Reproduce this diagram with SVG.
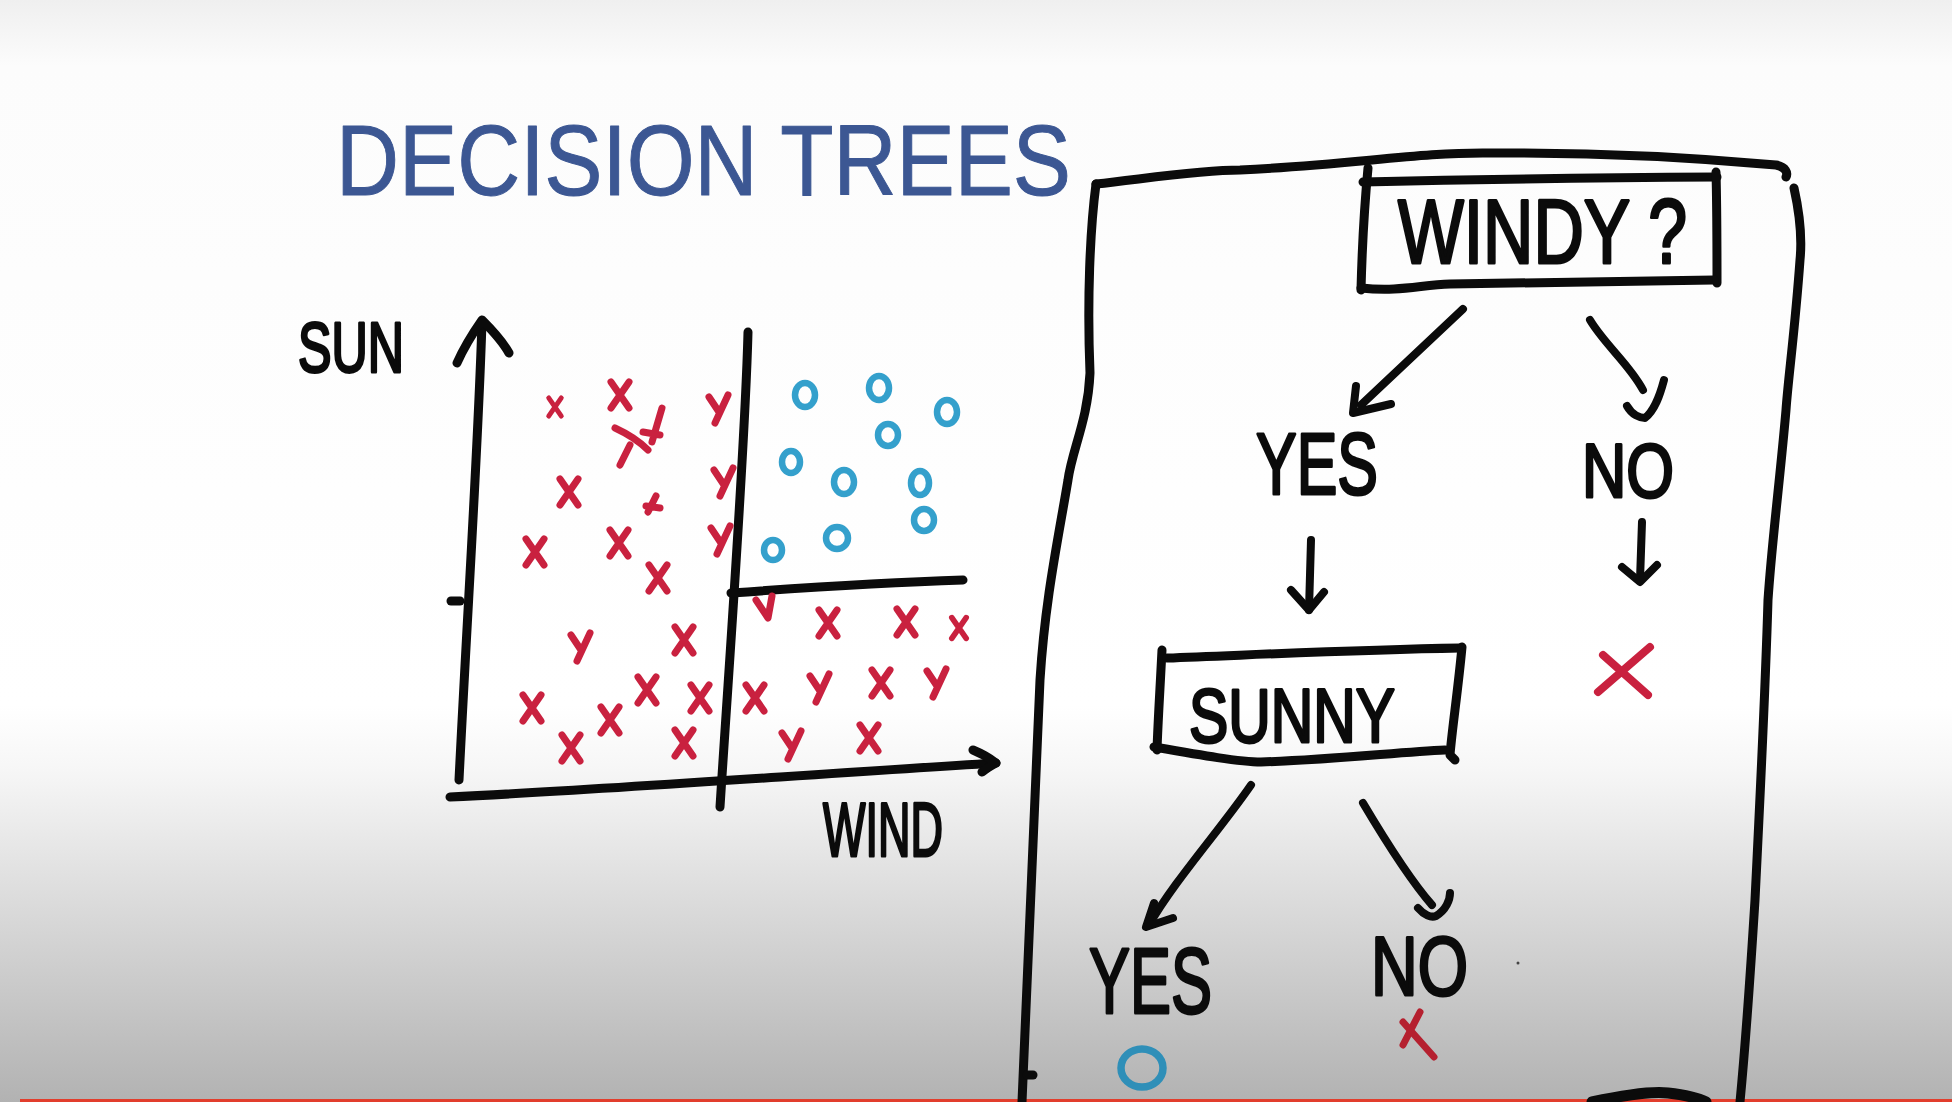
<svg xmlns="http://www.w3.org/2000/svg" width="1952" height="1102" viewBox="0 0 1952 1102">
<defs>
<linearGradient id="bg" x1="0" y1="0" x2="0" y2="1">
<stop offset="0" stop-color="#efefef"/>
<stop offset="0.06" stop-color="#fcfcfc"/>
<stop offset="0.64" stop-color="#ffffff"/>
<stop offset="0.70" stop-color="#f6f6f6"/>
<stop offset="1" stop-color="#b2b2b2"/>
</linearGradient>
<path id="mx" d="M-9,-13 L9,13 M9,-13 L-9,13"/>
<path id="my" d="M-9,-12 L1,3 M10,-14 L-3,14"/>
</defs>
<style>
.ink{fill:none;stroke:#0b0b0b;stroke-width:9;stroke-linecap:round;stroke-linejoin:round}
.thin{stroke-width:8}
.red{fill:none;stroke:#c9213f;stroke-width:7;stroke-linecap:round;stroke-linejoin:round}
.blue{fill:none;stroke:#34a0cc;stroke-width:6.5}
.lbl{font-family:"Liberation Sans","DejaVu Sans",sans-serif;fill:#0b0b0b;stroke:#0b0b0b;stroke-width:3;stroke-linejoin:round}
.ttl{font-family:"Liberation Sans","DejaVu Sans",sans-serif;fill:#3c5793;stroke:#3c5793;stroke-width:1;stroke-linejoin:round}
</style>
<rect x="0" y="0" width="1952" height="1102" fill="url(#bg)"/>
<rect x="20" y="1099" width="1932" height="3" fill="#e23e2d"/>

<g id="title">
<text class="ttl" x="336" y="195" font-size="100" textLength="735" lengthAdjust="spacingAndGlyphs">DECISION TREES</text>
</g>

<g id="chart">
<text class="lbl" x="298" y="372" font-size="70" textLength="106" lengthAdjust="spacingAndGlyphs">SUN</text>
<text class="lbl" x="823" y="856" font-size="76" textLength="120" lengthAdjust="spacingAndGlyphs">WIND</text>
<path class="ink" d="M482,322 C478,450 468,600 459,780"/>
<path class="ink" d="M457,363 C465,345 475,330 482,320 C492,330 503,342 509,353"/>
<path class="ink" d="M451,601 L460,601"/>
<path class="ink" d="M450,797 C600,790 800,775 996,763"/>
<path class="ink" d="M973,750 C985,755 992,760 996,763 C990,766 985,770 982,772"/>
<path class="ink" d="M748,332 C745,450 730,650 720,807"/>
<path class="ink" d="M731,593 C800,588 900,582 963,580"/>
<g class="red">
<use href="#mx" transform="translate(555,407) scale(0.7)"/>
<use href="#mx" transform="translate(620,395)"/>
<path d="M615,428 C628,434 640,442 648,450 M630,445 L620,465 M662,408 L652,442 M643,432 L660,435"/>
<use href="#my" transform="translate(718,409)"/>
<use href="#mx" transform="translate(569,492)"/>
<path d="M656,496 L648,512 M646,506 L660,508"/>
<use href="#my" transform="translate(723,482)"/>
<use href="#mx" transform="translate(535,552)"/>
<use href="#mx" transform="translate(619,543)"/>
<use href="#my" transform="translate(720,540)"/>
<use href="#mx" transform="translate(658,578)"/>
<use href="#my" transform="translate(580,647)"/>
<use href="#mx" transform="translate(684,640)"/>
<use href="#mx" transform="translate(532,708)"/>
<use href="#mx" transform="translate(610,720)"/>
<use href="#mx" transform="translate(647,690)"/>
<use href="#mx" transform="translate(700,698)"/>
<use href="#mx" transform="translate(571,748)"/>
<use href="#mx" transform="translate(684,743)"/>
<path d="M756,600 L768,618 L772,596"/>
<use href="#mx" transform="translate(828,623)"/>
<use href="#mx" transform="translate(906,622)"/>
<use href="#mx" transform="translate(959,628) scale(0.8)"/>
<use href="#mx" transform="translate(755,698)"/>
<use href="#my" transform="translate(819,688)"/>
<use href="#mx" transform="translate(881,683)"/>
<use href="#my" transform="translate(936,683)"/>
<use href="#my" transform="translate(791,745)"/>
<use href="#mx" transform="translate(869,738)"/>
</g>
<g class="blue">
<ellipse cx="805" cy="395" rx="10" ry="12"/>
<ellipse cx="879" cy="388" rx="10" ry="12"/>
<ellipse cx="947" cy="412" rx="10" ry="12"/>
<ellipse cx="888" cy="435" rx="10" ry="11"/>
<ellipse cx="791" cy="462" rx="9" ry="11"/>
<ellipse cx="844" cy="482" rx="10" ry="12"/>
<ellipse cx="920" cy="483" rx="9" ry="12"/>
<ellipse cx="924" cy="520" rx="10" ry="11"/>
<ellipse cx="837" cy="538" rx="11" ry="11"/>
<ellipse cx="773" cy="550" rx="9" ry="10"/>
</g>
</g>

<g id="frame">
<path class="ink" d="M1096,184 C1150,178 1200,170 1240,170 C1350,165 1420,152 1490,153 C1600,152 1700,158 1776,165 C1786,167 1788,173 1786,177"/>
<path class="ink" d="M1096,184 C1090,230 1087,300 1090,373 C1088,420 1072,450 1068,480 C1058,540 1045,600 1040,680 C1035,800 1028,950 1022,1102"/>
<path class="ink" d="M1794,188 C1800,215 1802,240 1800,260 C1795,330 1788,380 1786,410 C1780,480 1772,540 1768,600 C1765,700 1760,800 1755,900 C1750,980 1745,1050 1740,1102"/>
<path class="ink" d="M1027,1075 L1033,1075"/>
<path class="ink" style="stroke-width:11" d="M1592,1102 C1620,1096 1650,1091 1668,1093 C1685,1095 1700,1099 1706,1102"/>
</g>

<g id="node-windy">
<path class="ink" d="M1368,168 C1365,200 1362,250 1361,290"/>
<path class="ink" d="M1363,182 C1450,180 1550,178 1717,177"/>
<path class="ink" d="M1716,172 C1717,210 1717,250 1717,283"/>
<path class="ink" d="M1361,288 C1400,292 1420,285 1450,284 C1550,282 1650,281 1714,280"/>
<text class="lbl" x="1398" y="263" font-size="90" textLength="289" lengthAdjust="spacingAndGlyphs">WINDY ?</text>
</g>

<g id="node-yes1"><text class="lbl" x="1256" y="494" font-size="88" textLength="122" lengthAdjust="spacingAndGlyphs">YES</text></g>
<g id="node-no1"><text class="lbl" x="1582" y="497" font-size="76" textLength="92" lengthAdjust="spacingAndGlyphs">NO</text></g>
<g id="node-x1"><path class="red" style="stroke-width:8" d="M1603,655 L1648,695 M1650,647 L1598,692"/></g>

<g id="node-sunny">
<path class="ink" d="M1162,650 C1160,690 1158,720 1157,750"/>
<path class="ink" d="M1167,658 C1250,655 1350,650 1460,648"/>
<path class="ink" d="M1462,647 C1458,690 1452,730 1450,755 L1455,760"/>
<path class="ink" d="M1154,747 C1200,755 1240,762 1261,762 C1330,760 1400,752 1445,750"/>
<text class="lbl" x="1189" y="742" font-size="76" textLength="206" lengthAdjust="spacingAndGlyphs">SUNNY</text>
</g>

<g id="node-yes2"><text class="lbl" x="1089" y="1013" font-size="92" textLength="123" lengthAdjust="spacingAndGlyphs">YES</text></g>
<g id="node-no2"><text class="lbl" x="1371" y="995" font-size="84" textLength="97" lengthAdjust="spacingAndGlyphs">NO</text></g>
<g id="node-o2"><ellipse cx="1142" cy="1068" rx="21" ry="19" fill="none" stroke="#2f8fb8" stroke-width="7.5"/></g>
<g id="node-x2"><path class="red" style="stroke:#b5202f;stroke-width:7" d="M1403,1022 L1434,1057 M1420,1012 L1403,1045"/></g>

<g id="connectors">
<path class="ink thin" d="M1463,309 L1361,405"/>
<path class="ink thin" d="M1356,386 L1353,413 L1391,404"/>
<path class="ink thin" d="M1590,320 C1605,345 1630,365 1643,390"/>
<path class="ink thin" d="M1627,406 C1632,415 1640,418 1645,418 C1655,410 1660,395 1664,380"/>
<path class="ink thin" d="M1311,540 L1309,610"/>
<path class="ink thin" d="M1291,590 L1309,610 L1324,592"/>
<path class="ink thin" d="M1642,522 L1640,580"/>
<path class="ink thin" d="M1622,567 L1640,582 L1657,565"/>
<path class="ink thin" d="M1251,785 C1220,830 1175,880 1149,925"/>
<path class="ink thin" d="M1154,903 L1146,927 L1173,918"/>
<path class="ink thin" d="M1363,803 C1385,840 1410,880 1432,905"/>
<path class="ink thin" d="M1418,908 C1424,915 1431,918 1436,916 C1446,910 1450,900 1450,893"/>
</g>
<circle cx="1518" cy="963" r="1.5" fill="#444"/>
</svg>
